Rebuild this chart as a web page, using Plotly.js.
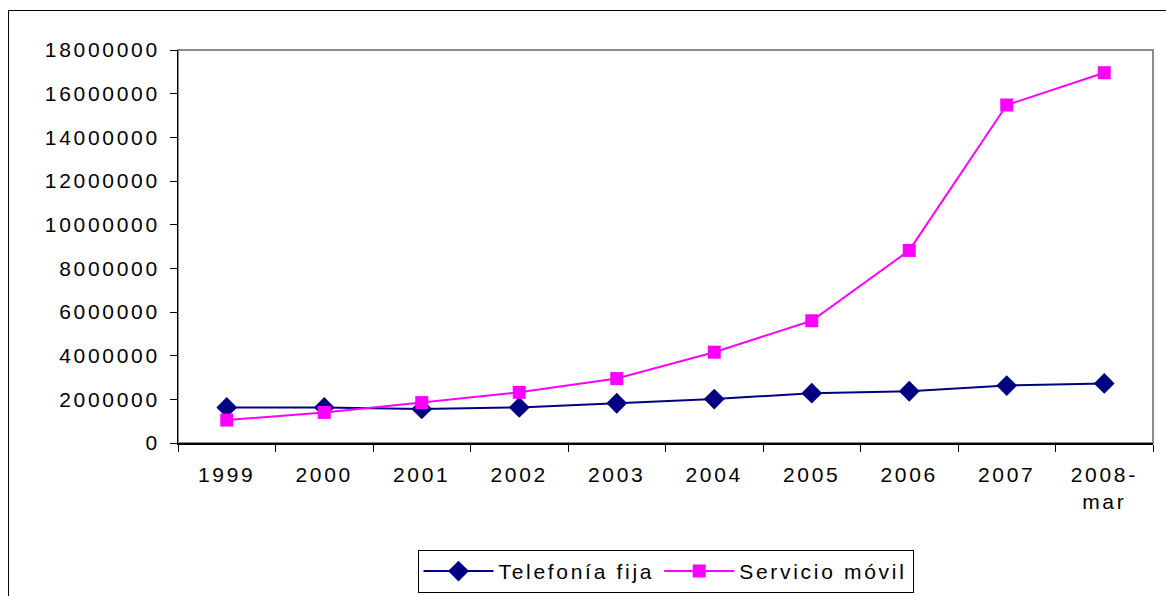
<!DOCTYPE html>
<html>
<head>
<meta charset="utf-8">
<script src="https://cdn.plot.ly/plotly-3.0.1.min.js"></script>
<style>
html,body{margin:0;padding:0;background:#fff;}
#chart{width:1166px;height:596px;}
.xtick text, .ytick text, .legendtext { letter-spacing: 2.7px; }
</style>
</head>
<body>
<div id="chart"></div>
<script>
var categories = ["1999","2000","2001","2002","2003","2004","2005","2006","2007","2008-<br>mar"];
var telefoniaFija = [1630000, 1630000, 1560000, 1630000, 1820000, 2010000, 2280000, 2370000, 2630000, 2730000];
var servicioMovil = [1050000, 1400000, 1850000, 2320000, 2950000, 4160000, 5600000, 8820000, 15480000, 16960000];
var yTicks = [0,2000000,4000000,6000000,8000000,10000000,12000000,14000000,16000000,18000000];

var font = {family: '"Liberation Sans", Arial, sans-serif', size: 21, color: '#000'};

var traces = [
  {x: categories, y: telefoniaFija, name: 'Telefonía fija', type: 'scatter', mode: 'lines+markers',
   line: {color: '#000080', width: 2}, marker: {symbol: 'diamond', size: 16, color: '#000080'}},
  {x: categories, y: servicioMovil, name: 'Servicio móvil', type: 'scatter', mode: 'lines+markers',
   line: {color: '#FF00FF', width: 2}, marker: {symbol: 'square', size: 13, color: '#FF00FF'}}
];

var layout = {
  width: 1166, height: 596,
  margin: {l: 178, r: 13, t: 50, b: 153, autoexpand: false},
  paper_bgcolor: '#fff', plot_bgcolor: '#fff',
  font: font,
  showlegend: true,
  legend: {orientation: 'h', x: 0.5, xanchor: 'center', y: -0.272, yanchor: 'top', itemwidth: 70,
           bordercolor: '#000', borderwidth: 1, font: font, bgcolor: '#fff'},
  xaxis: {type: 'category', range: [-0.5, 9.5], tickson: 'boundaries', ticks: 'outside', ticklen: 7,
          tickcolor: '#000', showline: true, linecolor: '#000', linewidth: 1.5, showgrid: false,
          ticklabelstandoff: 12, tickfont: font, fixedrange: true, automargin: false},
  yaxis: {range: [0, 18000000], tickvals: yTicks, ticktext: yTicks.map(String), ticks: 'outside', ticklen: 7,
          tickcolor: '#000', showline: true, linecolor: '#000', linewidth: 1, showgrid: false, zeroline: false,
          ticklabelstandoff: 6, tickfont: font, fixedrange: true, automargin: false},
  shapes: [
    {type: 'rect', xref: 'paper', yref: 'paper', x0: 0, x1: 1, y0: 0, y1: 1, layer: 'below',
     line: {color: '#8c8c8c', width: 2}},
    {type: 'rect', xref: 'paper', yref: 'paper', x0: -0.1738, x1: 1.1, y0: -0.6, y1: 1.1005,
     line: {color: '#000', width: 1}}
  ]
};

Plotly.newPlot('chart', traces, layout, {displayModeBar: false, staticPlot: true});
</script>
</body>
</html>
